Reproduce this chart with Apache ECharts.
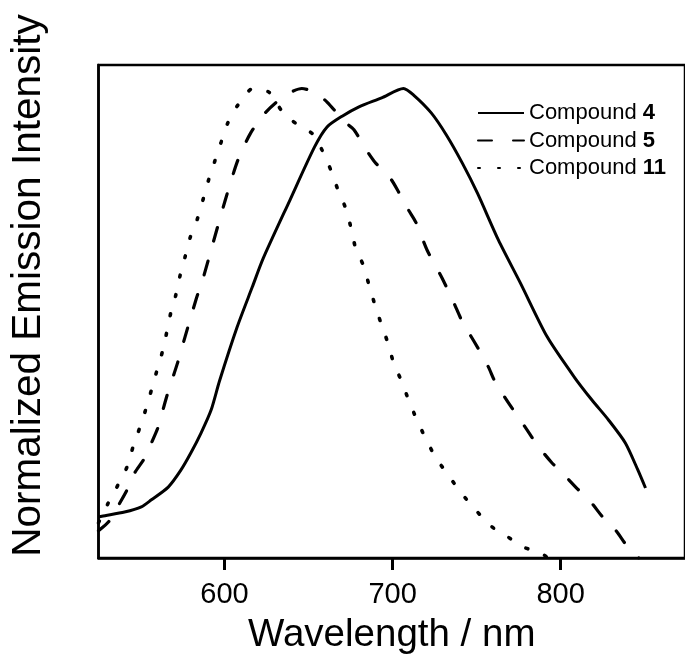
<!DOCTYPE html>
<html>
<head>
<meta charset="utf-8">
<script src="https://cdn.jsdelivr.net/npm/echarts@6/dist/echarts.min.js"></script>
<style>
html,body{margin:0;padding:0;background:#fff;}
#chart{width:685px;height:664px;}
</style>
</head>
<body>
<div id="chart"></div>
<script>
// ---- data ----
var seriesNames = ['Compound 4', 'Compound 5', 'Compound 11'];
var xTickValues = [600, 700, 800];

var wl4 = [525, 527, 540.5, 550.5, 556.5, 566.5, 574, 580, 586, 592, 597, 607.5, 616.5, 623, 639, 653.5, 661, 670, 680, 693.5, 706.5, 712.5, 723, 732, 741.5, 750.5, 763, 776, 792, 808, 818.5, 828.5, 838.5, 846, 850.5];
var int4 = [0.087, 0.089, 0.098, 0.109, 0.124, 0.151, 0.187, 0.224, 0.266, 0.315, 0.377, 0.492, 0.577, 0.638, 0.763, 0.875, 0.918, 0.941, 0.961, 0.980, 1.0, 0.986, 0.948, 0.901, 0.841, 0.777, 0.677, 0.586, 0.471, 0.386, 0.337, 0.294, 0.245, 0.187, 0.149];

var wl5 = [525, 531, 537, 542, 546.5, 552.5, 556.5, 560.5, 565.5, 572, 576.5, 583, 587.5, 592, 600.5, 608, 615.5, 623.5, 630, 639.5, 646, 654.5, 661, 671.5, 677, 684, 689.5, 699, 703.5, 709.5, 714, 720.5, 729.5, 736.5, 741, 745.5, 751.5, 757, 761, 767, 773, 780, 786, 794.5, 801, 809.5, 817.5, 825.5, 833, 840, 846.5];
var int5 = [0.058, 0.077, 0.113, 0.145, 0.181, 0.213, 0.245, 0.279, 0.343, 0.415, 0.471, 0.550, 0.599, 0.656, 0.763, 0.848, 0.905, 0.945, 0.968, 0.992, 1.0, 0.990, 0.971, 0.929, 0.912, 0.871, 0.843, 0.807, 0.780, 0.741, 0.714, 0.656, 0.596, 0.543, 0.507, 0.479, 0.443, 0.407, 0.375, 0.341, 0.309, 0.273, 0.241, 0.204, 0.181, 0.149, 0.121, 0.085, 0.058, 0.023, 0];

var wl11 = [525, 530.5, 536.5, 542, 545.5, 549.5, 553, 556.5, 559.5, 563, 565.5, 568, 571, 573.5, 576.5, 579.5, 584, 587.5, 590.5, 594, 598, 602, 608, 617, 626.5, 634.5, 643, 652.5, 658, 663.5, 667.5, 672.5, 675.5, 678, 682.5, 686, 689.5, 693, 697, 700.5, 705, 709.5, 714, 719.5, 725.5, 733, 741, 749.5, 758.5, 768.5, 778, 788, 792.5];
var int11 = [0.075, 0.115, 0.155, 0.194, 0.236, 0.277, 0.315, 0.358, 0.396, 0.439, 0.479, 0.522, 0.560, 0.601, 0.641, 0.682, 0.724, 0.767, 0.805, 0.843, 0.886, 0.927, 0.965, 1.0, 0.992, 0.950, 0.924, 0.903, 0.869, 0.824, 0.784, 0.741, 0.699, 0.660, 0.624, 0.581, 0.539, 0.501, 0.460, 0.417, 0.379, 0.337, 0.298, 0.256, 0.215, 0.177, 0.138, 0.102, 0.068, 0.045, 0.023, 0.011, 0];

function zip(xs, ys) { return xs.map(function (x, i) { return [x, ys[i]]; }); }

var FONT = "'Liberation Sans', Arial, Helvetica, sans-serif";
var chart = echarts.init(document.getElementById('chart'), null, {renderer: 'canvas'});

var option = {
  animation: false,
  backgroundColor: '#ffffff',
  grid: {
    left: 91, top: 65, right: -2, bottom: 106,
    show: true, borderColor: '#000', borderWidth: 2.5, backgroundColor: 'transparent'
  },
  xAxis: {
    type: 'value',
    min: 525, max: 874,
    name: 'Wavelength / nm',
    nameLocation: 'middle',
    nameGap: 58,
    nameTextStyle: {fontFamily: FONT, fontSize: 38.5, lineHeight: 38, color: '#000'},
    axisLine: {show: true, lineStyle: {color: '#000', width: 2.5}},
    axisTick: {show: true, inside: false, length: 12, lineStyle: {color: '#000', width: 3}, customValues: xTickValues},
    axisLabel: {show: true, margin: 22, fontFamily: FONT, fontSize: 29, lineHeight: 29, color: '#000', customValues: xTickValues},
    splitLine: {show: false}
  },
  yAxis: {
    type: 'value',
    min: 0, max: 1.05,
    name: 'Normalized Emission Intensity',
    nameLocation: 'middle',
    nameRotate: 90,
    nameGap: 50,
    nameTextStyle: {fontFamily: FONT, fontSize: 40.5, lineHeight: 40, color: '#000', padding: [0, 0, 0, 52]},
    axisLine: {show: true, lineStyle: {color: '#000', width: 2.5}},
    axisTick: {show: false},
    axisLabel: {show: false},
    splitLine: {show: false}
  },
  legend: {
    show: true,
    orient: 'vertical',
    left: 477, top: 102,
    itemWidth: 46, itemHeight: 14, itemGap: 5.5,
    padding: 0,
    data: seriesNames,
    itemStyle: {opacity: 0},
    formatter: function (name) { return name.replace(/(\d+)$/, '{b|$1}'); },
    textStyle: {
      fontFamily: FONT, fontSize: 22, lineHeight: 22, color: '#000',
      rich: {b: {fontFamily: FONT, fontSize: 22, lineHeight: 22, fontWeight: 'bold', color: '#000'}}
    }
  },
  series: [
    {
      name: seriesNames[0], type: 'line', data: zip(wl4, int4),
      symbol: 'none', smooth: 0.25,
      lineStyle: {color: '#000', width: 3, type: 'solid'},
      itemStyle: {color: '#000'}
    },
    {
      name: seriesNames[1], type: 'line', data: zip(wl5, int5),
      symbol: 'none', smooth: 0.25,
      lineStyle: {color: '#000', width: 3.2, type: [14, 21], cap: 'round'},
      itemStyle: {color: '#000'}
    },
    {
      name: seriesNames[2], type: 'line', data: zip(wl11, int11),
      symbol: 'none', smooth: 0.25,
      lineStyle: {color: '#000', width: 3.6, type: [2, 18], cap: 'round'},
      itemStyle: {color: '#000'}
    }
  ]
};
chart.setOption(option);
</script>
</body>
</html>
